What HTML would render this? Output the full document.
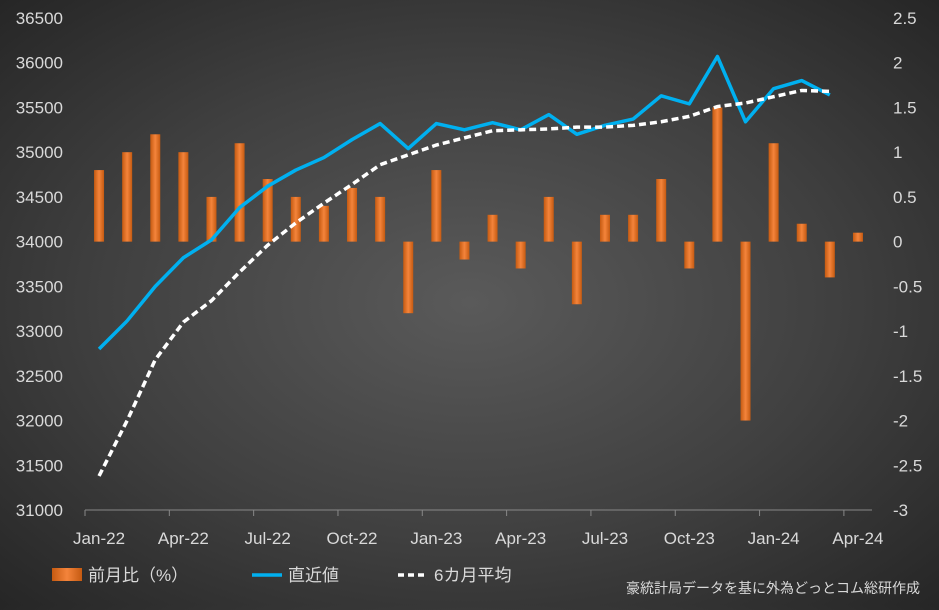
<!DOCTYPE html>
<html><head><meta charset="utf-8"><style>
html,body{margin:0;padding:0;}
body{width:939px;height:605px;overflow:hidden;background:radial-gradient(ellipse at 50% 50%,#5a5a5a 0%,#404040 55%,#262626 100%);font-family:"Liberation Sans","Noto Sans CJK JP",sans-serif;}
svg text{font-family:"Liberation Sans","Noto Sans CJK JP",sans-serif;fill:#d9d9d9;}
</style></head><body>
<svg id="chart" width="939" height="605" xmlns="http://www.w3.org/2000/svg">
<defs><linearGradient id="barg" x1="0" x2="1"><stop offset="0" stop-color="#c55a11"/><stop offset="0.5" stop-color="#f4843b"/><stop offset="1" stop-color="#c55a11"/></linearGradient></defs>
<g id="bars"></g>
<g id="axes"></g>
<g id="lines"></g>
<g>
<rect x="52" y="568" width="30" height="13" fill="url(#barg)"/>
<text x="88" y="581" font-size="17">前月比（%）</text>
<line x1="252" y1="575" x2="282" y2="575" stroke="#00b0f0" stroke-width="3.5"/>
<text x="288" y="581" font-size="17">直近値</text>
<line x1="398" y1="575" x2="428" y2="575" stroke="#fff" stroke-width="3.5" stroke-dasharray="6,4"/>
<text x="434" y="581" font-size="17">6カ月平均</text>
</g>
<text x="920" y="593" font-size="14" text-anchor="end">豪統計局データを基に外為どっとコム総研作成</text>
</svg>
<script>
const categories=["Jan-22","Feb-22","Mar-22","Apr-22","May-22","Jun-22","Jul-22","Aug-22","Sep-22","Oct-22","Nov-22","Dec-22","Jan-23","Feb-23","Mar-23","Apr-23","May-23","Jun-23","Jul-23","Aug-23","Sep-23","Oct-23","Nov-23","Dec-23","Jan-24","Feb-24","Mar-24","Apr-24"];
const momValues=[0.8,1.0,1.2,1.0,0.5,1.1,0.7,0.5,0.4,0.6,0.5,-0.8,0.8,-0.2,0.3,-0.3,0.5,-0.7,0.3,0.3,0.7,-0.3,1.5,-2.0,1.1,0.2,-0.4,0.1];
const latestValues=[32800,33115,33500,33820,34020,34380,34620,34800,34940,35140,35320,35040,35320,35250,35330,35250,35420,35200,35300,35370,35630,35540,36070,35340,35710,35800,35640];
const avgValues=[31380,32000,32680,33100,33340,33660,33960,34210,34430,34640,34860,34970,35080,35160,35240,35250,35260,35280,35280,35300,35340,35400,35510,35550,35620,35690,35680];
const leftTicks=[31000,31500,32000,32500,33000,33500,34000,34500,35000,35500,36000,36500];
const rightTicks=[-3,-2.5,-2,-1.5,-1,-0.5,0,0.5,1,1.5,2,2.5];
const xLabels=["Jan-22","Apr-22","Jul-22","Oct-22","Jan-23","Apr-23","Jul-23","Oct-23","Jan-24","Apr-24"];

const NS="http://www.w3.org/2000/svg";
const yTop=18,yBot=510,x0=85,x1=872;
const step=(x1-x0)/categories.length;
const xc=i=>x0+step*(i+0.5);
const yL=v=>yBot-(v-31000)/(36500-31000)*(yBot-yTop);
const yR=v=>yBot-(v+3)/5.5*(yBot-yTop);
function mk(t,a,p){const e=document.createElementNS(NS,t);for(const k in a)e.setAttribute(k,a[k]);p.appendChild(e);return e;}
const bars=document.getElementById('bars'),axes=document.getElementById('axes'),lines=document.getElementById('lines');
momValues.forEach((v,i)=>{
  const y=Math.min(yR(v),yR(0)),h=Math.abs(yR(v)-yR(0));
  const r=mk('rect',{x:xc(i)-5,y:y,width:10,height:h,fill:'url(#barg)'},bars);
  
  
});
mk('line',{x1:x0,y1:yBot,x2:x1,y2:yBot,stroke:'#888','stroke-width':1},axes);
leftTicks.forEach(v=>{const t=mk('text',{x:63,y:yL(v)+6,'font-size':17,'text-anchor':'end'},axes);t.textContent=v;
  
  });
rightTicks.forEach(v=>{const t=mk('text',{x:893,y:yR(v)+6,'font-size':17},axes);t.textContent=v;
  
  });
xLabels.forEach(l=>{const i=categories.indexOf(l);
  mk('line',{x1:x0+step*i,y1:yBot,x2:x0+step*i,y2:yBot+6,stroke:'#888'},axes);
  const t=mk('text',{x:xc(i),y:yBot+34,'font-size':17,'text-anchor':'middle'},axes);t.textContent=l;
  
  });
function pl(vals,attrs,name){const p=mk('polyline',Object.assign({points:vals.map((v,i)=>xc(i)+','+yL(v)).join(' '),fill:'none'},attrs),lines);
  
  }
pl(latestValues,{stroke:'#00b0f0','stroke-width':3.5,'stroke-linejoin':'round'},'latest-line');
pl(avgValues,{stroke:'#ffffff','stroke-width':3.5,'stroke-dasharray':'7,4'},'six-month-avg-line');
</script>
</body></html>
